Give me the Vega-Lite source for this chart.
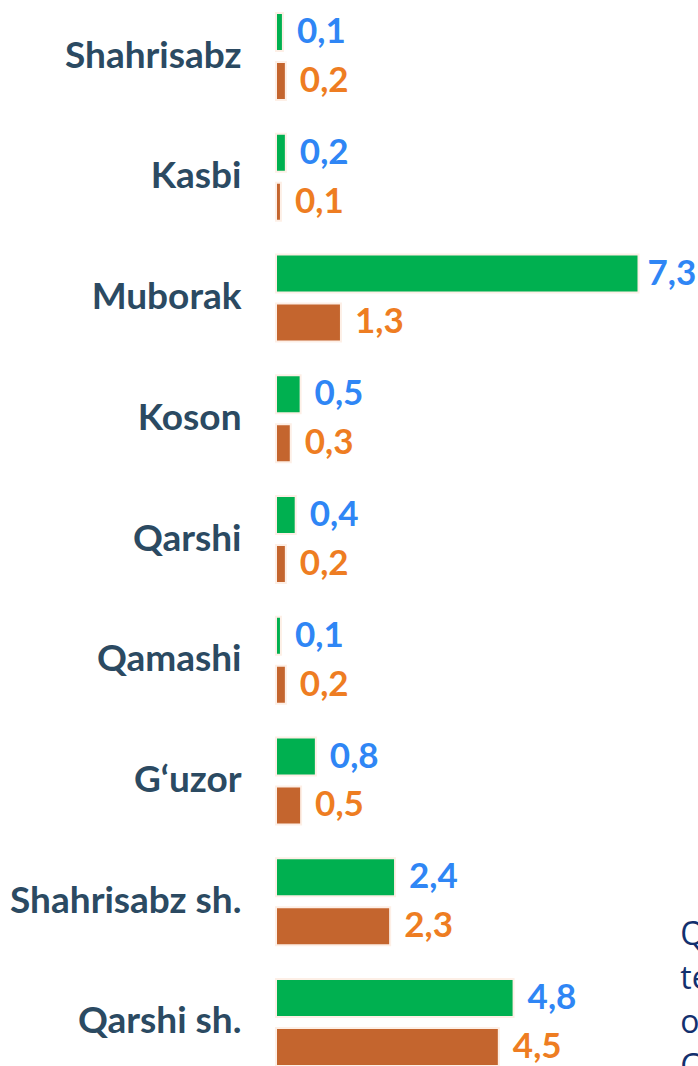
{
  "$schema": "https://vega.github.io/schema/vega-lite/v6.json",
  "autosize": "none",
  "width": 421,
  "height": 1066,
  "padding": {"left": 277, "top": 0, "right": 0, "bottom": 0},
  "background": "white",
  "config": {
    "view": {"stroke": null},
    "locale": {"number": {"decimal": ",", "thousands": " ", "grouping": [3], "currency": ["", ""]}}
  },
  "datasets": {
    "bars": [
      {"district": "Shahrisabz", "series": "A", "value": 0.10},
      {"district": "Shahrisabz", "series": "B", "value": 0.16},
      {"district": "Kasbi", "series": "A", "value": 0.16},
      {"district": "Kasbi", "series": "B", "value": 0.06},
      {"district": "Muborak", "series": "A", "value": 7.33},
      {"district": "Muborak", "series": "B", "value": 1.28},
      {"district": "Koson", "series": "A", "value": 0.46},
      {"district": "Koson", "series": "B", "value": 0.26},
      {"district": "Qarshi", "series": "A", "value": 0.36},
      {"district": "Qarshi", "series": "B", "value": 0.16},
      {"district": "Qamashi", "series": "A", "value": 0.06},
      {"district": "Qamashi", "series": "B", "value": 0.16},
      {"district": "G‘uzor", "series": "A", "value": 0.77},
      {"district": "G‘uzor", "series": "B", "value": 0.47},
      {"district": "Shahrisabz sh.", "series": "A", "value": 2.38},
      {"district": "Shahrisabz sh.", "series": "B", "value": 2.28},
      {"district": "Qarshi sh.", "series": "A", "value": 4.79},
      {"district": "Qarshi sh.", "series": "B", "value": 4.49}
    ],
    "note": [
      {"district": "Shahrisabz sh.", "x": 8.2, "lines": ["Qashqadaryo", "tekshiruvlar", "o‘tkazildi", "Chiroqchi"]}
    ]
  },
  "data": {"name": "bars"},
  "encoding": {
    "y": {
      "field": "district",
      "type": "nominal",
      "sort": ["Shahrisabz", "Kasbi", "Muborak", "Koson", "Qarshi", "Qamashi", "G‘uzor", "Shahrisabz sh.", "Qarshi sh."],
      "scale": {"range": [14, 1065], "paddingInner": 0.296, "paddingOuter": 0},
      "axis": {
        "title": null,
        "ticks": false,
        "domain": false,
        "labelPadding": 36,
        "labelFont": "Lato",
        "labelFontWeight": "bold",
        "labelFontSize": 37,
        "labelColor": "#2b4a62",
        "labelLimit": 300
      }
    }
  },
  "layer": [
    {
      "mark": {"type": "bar", "fill": null, "stroke": "#f4b183", "strokeWidth": 4, "strokeOpacity": 0.2},
      "encoding": {
        "x": {"field": "value", "type": "quantitative", "scale": {"domain": [0, 8.56], "nice": false, "zero": true}, "axis": null},
        "yOffset": {"field": "series", "type": "nominal", "sort": ["A", "B"], "scale": {"paddingInner": 0.265, "paddingOuter": 0}}
      }
    },
    {
      "mark": {"type": "bar"},
      "encoding": {
        "x": {"field": "value", "type": "quantitative"},
        "yOffset": {"field": "series", "type": "nominal", "sort": ["A", "B"]},
        "color": {"field": "series", "type": "nominal", "scale": {"domain": ["A", "B"], "range": ["#00b050", "#c4652e"]}, "legend": null}
      }
    },
    {
      "mark": {"type": "text", "align": "left", "baseline": "middle", "dx": {"expr": "datum.value > 7 ? 10 : 15"}, "font": "Lato", "fontWeight": "bold", "fontSize": 35},
      "encoding": {
        "x": {"field": "value", "type": "quantitative"},
        "yOffset": {"field": "series", "type": "nominal", "sort": ["A", "B"]},
        "text": {"field": "value", "type": "quantitative", "format": ".1f"},
        "color": {"field": "series", "type": "nominal", "scale": {"domain": ["A", "B"], "range": ["#2f86f5", "#ee7d22"]}, "legend": null}
      }
    },
    {
      "data": {"name": "note"},
      "mark": {"type": "text", "align": "left", "baseline": "alphabetic", "dy": 43, "lineHeight": 44, "font": "Open Sans", "fontSize": 32, "color": "#13306e", "clip": true},
      "encoding": {
        "x": {"field": "x", "type": "quantitative"},
        "text": {"field": "lines"}
      }
    }
  ],
  "resolve": {"scale": {"color": "independent"}}
}
